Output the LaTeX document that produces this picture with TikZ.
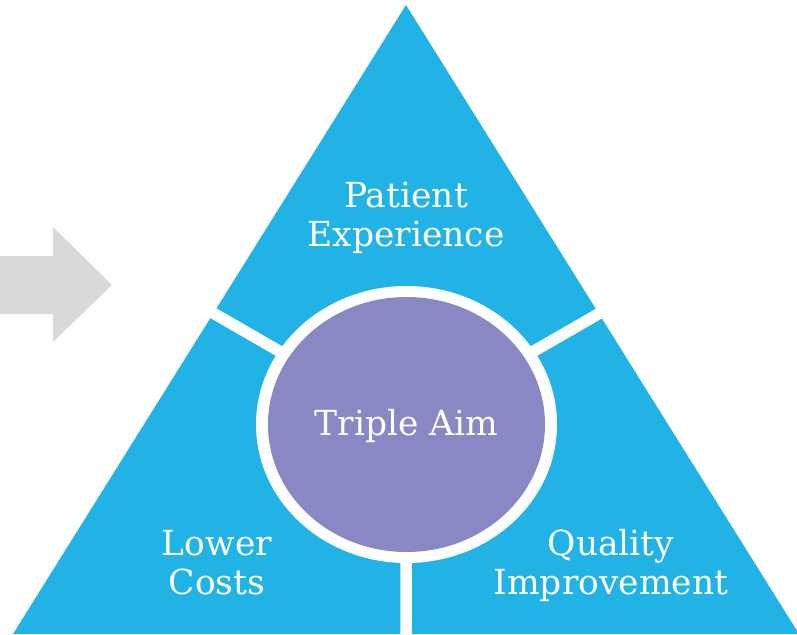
\documentclass[tikz,border=0pt]{standalone}
\usepackage{fontspec}
\setmainfont{DejaVu Serif}
\definecolor{triblue}{HTML}{21B2E6}
\definecolor{aimpurple}{HTML}{8888C4}
\definecolor{arrowgray}{HTML}{D9D9D9}
\begin{document}
\begin{tikzpicture}[x=1pt,y=-1pt,
  label/.style={text=white,font=\fontsize{34.5}{38.5}\selectfont,align=center,inner sep=0pt,anchor=base},
  gap/.style={draw=white,line width=11.5pt}]
\useasboundingbox (0,0) rectangle (797,634);
\clip (0,0) rectangle (797,634);
% coordinates
\coordinate (apex) at (406,5);
\coordinate (bl) at (13,634);
\coordinate (br) at (799,634);
\coordinate (c) at (406.5,424.5);
\coordinate (gl) at (200,305.5);
\coordinate (gr) at (613,305.5);
\coordinate (gb) at (406,650);
% gray arrow
\fill[arrowgray] (0,256) -- (53,256) -- (53,227) -- (112,285) -- (53,342) -- (53,314) -- (0,314) -- cycle;
% triangle
\fill[triblue] (apex) -- (bl) -- (br) -- cycle;
% gaps
\draw[gap] (c) -- (gl);
\draw[gap] (c) -- (gr);
\draw[gap] (c) -- (gb);
% circle
\fill[white] (c) ellipse [x radius=150.5, y radius=138.5];
\fill[aimpurple] (c) ellipse [x radius=138.5, y radius=127.5];
% labels
\node[label] (pe) at (406,246) {Patient\\Experience};
\node[label] (ta) at (406.5,435) {Triple Aim};
\node[label] (lc) at (217,594) {Lower\\Costs};
\node[label] (qi) at (611,594) {Quality\\Improvement};
\end{tikzpicture}
\end{document}
